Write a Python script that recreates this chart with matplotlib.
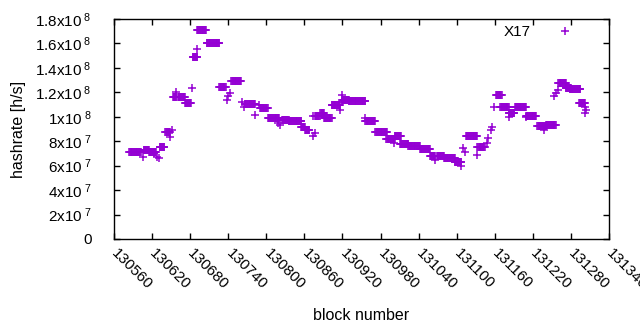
"""
Hashrate per block, gnuplot-like look.
"""
import matplotlib
matplotlib.use("Agg")
import matplotlib.pyplot as plt
import numpy as np

plt.rcParams["font.family"] = ["Liberation Sans", "DejaVu Sans"]
plt.rcParams["mathtext.default"] = "regular"

COLOR = "#9400D3"

# plateaus: consecutive blocks with the same hashrate (x1e8 h/s)
run_start = [130584, 130607, 130615, 130632, 130641, 130653, 130661, 130672, 130684, 130691,
             130706, 130726, 130745, 130766, 130790, 130803, 130825, 130835, 130855, 130861,
             130877, 130885, 130891, 130903, 130920, 130930, 130956, 130972, 130989, 131002,
             131011, 131024, 131042, 131058, 131069, 131080, 131097, 131115, 131134, 131162,
             131169, 131182, 131192, 131209, 131227, 131241, 131260, 131272, 131278, 131293]
run_end = [130602, 130615, 130626, 130639, 130648, 130658, 130672, 130681, 130691, 130705,
           130726, 130736, 130760, 130782, 130802, 130820, 130835, 130855, 130861, 130868,
           130884, 130891, 130903, 130916, 130930, 130956, 130971, 130990, 131002, 131012,
           131024, 131042, 131058, 131066, 131080, 131097, 131107, 131132, 131144, 131171,
           131182, 131191, 131209, 131225, 131241, 131256, 131272, 131280, 131295, 131302]
run_rate = [0.712, 0.732, 0.712, 0.753, 0.875, 1.162, 1.158, 1.109, 1.489, 1.706,
            1.601, 1.244, 1.289, 1.105, 1.069, 0.994, 0.974, 0.968, 0.917, 0.892,
            1.004, 1.031, 0.990, 1.099, 1.137, 1.127, 0.966, 0.878, 0.816, 0.845,
            0.780, 0.762, 0.740, 0.683, 0.679, 0.663, 0.632, 0.840, 0.753, 1.176,
            1.084, 1.027, 1.084, 1.010, 0.922, 0.933, 1.279, 1.233, 1.225, 1.115]

# isolated blocks
single_block = [130606, 130623, 130628, 130631, 130652, 130648, 130658, 130683, 130690, 130742,
                130740, 130738, 130761, 130765, 130782, 130789, 130819, 130822, 130874, 130877,
                130873, 130916, 130919, 130919, 130956, 131001, 131066, 131107, 131110, 131113,
                131132, 131132, 131148, 131150, 131156, 131154, 131159, 131182, 131209, 131238,
                131253, 131256, 131260, 131302, 131304, 131302]
single_rate = [0.673, 0.706, 0.673, 0.660, 0.892, 0.832, 1.205, 1.233, 1.552, 1.192,
               1.170, 1.137, 1.123, 1.078, 1.015, 1.096, 0.947, 0.933, 0.843, 0.865,
               1.006, 1.055, 1.178, 1.123, 0.988, 0.783, 0.646, 0.597, 0.742, 0.714,
               0.687, 0.755, 0.783, 0.824, 0.914, 0.892, 1.082, 1.000, 1.000, 0.892,
               1.170, 1.192, 1.219, 1.078, 1.055, 1.033]

x_ticks = np.arange(130560, 131341, 60)
y_ticks = [0, 2e7, 4e7, 6e7, 8e7, 1e8, 1.2e8, 1.4e8, 1.6e8, 1.8e8]
y_tick_labels = ["0", "2x10$^{\\;7}$", "4x10$^{\\;7}$", "6x10$^{\\;7}$", "8x10$^{\\;7}$",
                 "1x10$^{\\;8}$", "1.2x10$^{\\;8}$", "1.4x10$^{\\;8}$", "1.6x10$^{\\;8}$",
                 "1.8x10$^{\\;8}$"]

blocks = []
rates = []
for s, e, r in zip(run_start, run_end, run_rate):
    for b in range(s, e + 1):
        blocks.append(b)
        rates.append(r * 1e8)
blocks += single_block
rates += [r * 1e8 for r in single_rate]

fig = plt.figure(figsize=(6.4, 3.3), dpi=100)
ax = fig.add_axes([114 / 640, 1 - 239 / 330, 495 / 640, 220 / 330])

ax.plot(blocks, rates, linestyle="none", marker="+", markersize=5.2,
        markeredgewidth=1.1, color=COLOR, label="X17")

ax.set_xlim(130560, 131340)
ax.set_ylim(0, 1.8e8)
ax.set_xticks(x_ticks)
ax.set_xticklabels([str(t) for t in x_ticks], rotation=-45, ha="left", va="center",
                   rotation_mode="anchor", fontsize=11)
ax.set_yticks(y_ticks)
ax.set_yticklabels(y_tick_labels, fontsize=11)
ax.tick_params(direction="in", length=4.5, width=1, top=True, right=True, colors="black")
ax.tick_params(axis="x", pad=9)
ax.tick_params(axis="y", pad=16)
for sp in ax.spines.values():
    sp.set_linewidth(1)

ax.set_xlabel("block number", fontsize=11.5)
ax.xaxis.set_label_coords(0.5, -0.35)
ax.xaxis.label.set_va("center")
ax.set_ylabel("hashrate [h/s]", fontsize=11.5)
ax.yaxis.set_label_coords(-0.192, 0.5)
ax.yaxis.label.set_va("center")

ax.legend(loc="upper right", bbox_to_anchor=(0.955, 1.0), frameon=False, markerfirst=False,
          fontsize=11, handlelength=2, handletextpad=1.3, borderaxespad=0, borderpad=0.4)

fig.savefig("out.png", dpi=100)
